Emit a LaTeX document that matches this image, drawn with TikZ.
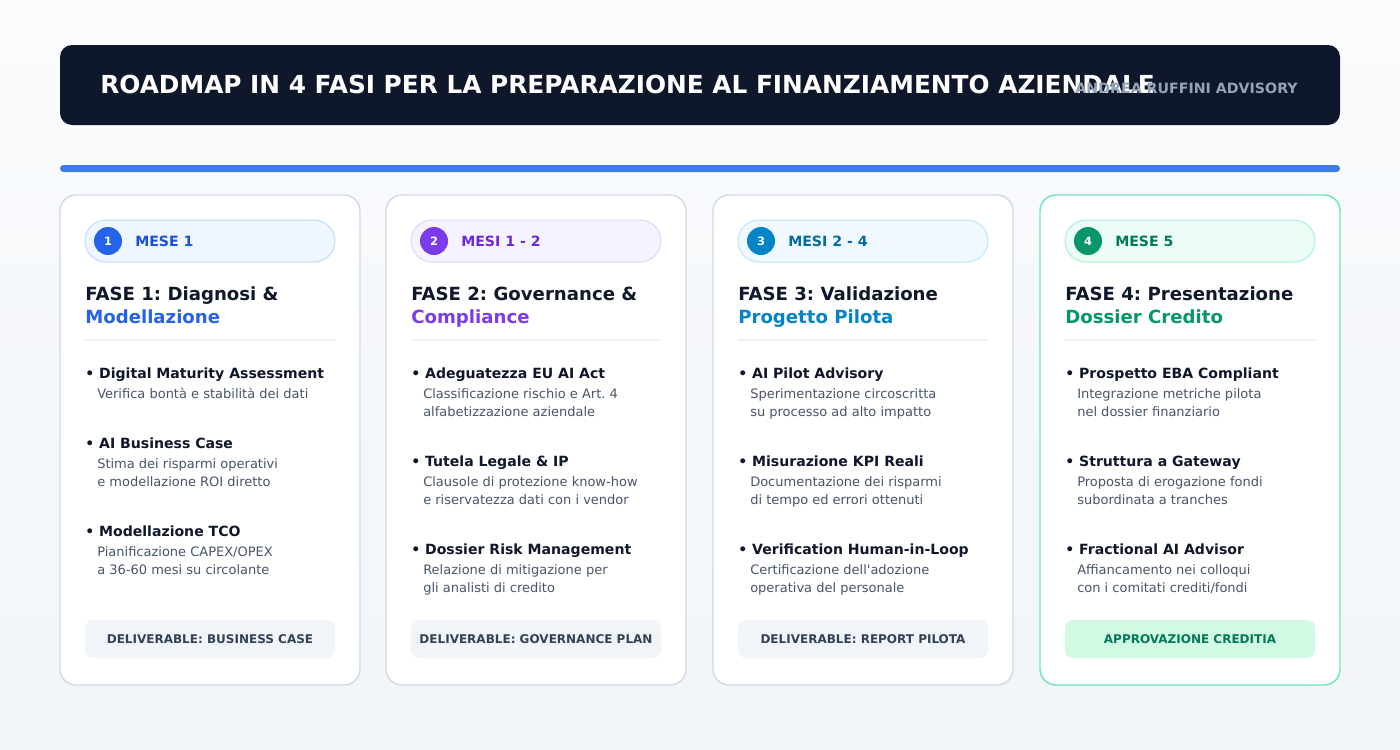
\documentclass[tikz,border=0pt]{standalone}
\usepackage{fontspec}
\setmainfont{DejaVu Sans}
\frenchspacing

\definecolor{ink}{HTML}{0F172A}
\definecolor{slate}{HTML}{475569}
\definecolor{dtext}{HTML}{334155}
\definecolor{muted}{HTML}{94A3B8}
\definecolor{cardline}{HTML}{D1DAE5}
\definecolor{sepline}{HTML}{EEF2F6}
\definecolor{dboxbg}{HTML}{F1F5F9}
\definecolor{bar}{HTML}{3D7BE8}

\definecolor{bluea}{HTML}{2563EB}
\definecolor{blueb}{HTML}{1D4ED8}
\definecolor{bluebg}{HTML}{EFF6FF}
\definecolor{blueln}{HTML}{BFDBFE}
\definecolor{purpa}{HTML}{7C3AED}
\definecolor{purpb}{HTML}{6D28D9}
\definecolor{purpbg}{HTML}{F5F3FF}
\definecolor{purpln}{HTML}{DDD6FE}
\definecolor{skya}{HTML}{0284C7}
\definecolor{skyb}{HTML}{0369A1}
\definecolor{skybg}{HTML}{F0F9FF}
\definecolor{skyln}{HTML}{BAE6FD}
\definecolor{greena}{HTML}{059669}
\definecolor{greenb}{HTML}{047857}
\definecolor{greenbg}{HTML}{ECFDF5}
\definecolor{greenln}{HTML}{A7F3D0}
\definecolor{greencard}{HTML}{6EE7B7}
\definecolor{greenbox}{HTML}{D1FAE5}

\tikzset{
  card/.style={draw=cardline, fill=white, line width=1.1pt, rounded corners=12pt},
  pill/.style={line width=0.75pt, rounded corners=15.75pt},
  num/.style={circle, minimum size=21pt, inner sep=0, text=white, font=\bfseries\fontsize{8.6}{8.6}\selectfont},
  mese/.style={anchor=base west, inner sep=0, font=\bfseries\fontsize{10.6}{10.6}\selectfont},
  ttl/.style={anchor=base west, inner sep=0, text=ink, font=\bfseries\fontsize{13.6}{13.6}\selectfont},
  sep/.style={draw=sepline, line width=1.2pt},
  item/.style={anchor=base west, inner sep=0, text=ink, font=\bfseries\fontsize{10.55}{10.55}\selectfont},
  desc/.style={anchor=base west, inner sep=0, text=slate, font=\fontsize{9.75}{9.75}\selectfont},
  dbox/.style={fill=dboxbg, rounded corners=6pt},
  deliv/.style={anchor=base, inner sep=0, text=dtext, font=\bfseries\fontsize{9}{9}\selectfont}
}

\begin{document}
\begin{tikzpicture}[x=0.75pt, y=-0.75pt]
\useasboundingbox (0, 0) rectangle (1400, 750);
\shade[top color=white!60!dboxbg, bottom color=dboxbg] (0, 0) rectangle (1400, 750);

% header
\fill[ink, rounded corners=9pt] (60, 45) rectangle (1340, 125);
\node[anchor=base west, inner sep=0, text=white, font=\bfseries\fontsize{18.6}{18.6}\selectfont] (head) at (100, 93) {ROADMAP IN 4 FASI PER LA PREPARAZIONE AL FINANZIAMENTO AZIENDALE};
\node[anchor=base east, inner sep=0, text=muted, font=\bfseries\fontsize{10.65}{10.65}\selectfont] (brand) at (1298, 93) {ANDREA RUFFINI ADVISORY};
\fill[bar, rounded corners=2.6pt] (60, 165) rectangle (1340, 172);

% fase 1
\def\dx{60}
\draw[card] (\dx, 195) rectangle (\dx + 300, 685);
\draw[pill, draw=blueln, fill=bluebg] (\dx + 25, 220) rectangle (\dx + 275, 262);
\node[num, fill=bluea] (n1) at (\dx + 48, 241) {1};
\node[mese, text=blueb] (m1) at (\dx + 75, 246) {MESE 1};
\node[ttl] (t1) at (\dx + 25, 300) {FASE 1: Diagnosi \&};
\node[ttl, text=bluea] (s1) at (\dx + 25, 323) {Modellazione};
\draw[sep] (\dx + 25, 340) -- (\dx + 275, 340);
\node[item] (a1) at (\dx + 25, 378) {• Digital Maturity Assessment};
\node[desc] (a1l) at (\dx + 37, 398) {Verifica bontà e stabilità dei dati};
\node[item] (b1) at (\dx + 25, 448) {• AI Business Case};
\node[desc] (b1l) at (\dx + 37, 468) {Stima dei risparmi operativi};
\node[desc] (b1m) at (\dx + 37, 486) {e modellazione ROI diretto};
\node[item] (c1) at (\dx + 25, 536) {• Modellazione TCO};
\node[desc] (c1l) at (\dx + 37, 556) {Pianificazione CAPEX/OPEX};
\node[desc] (c1m) at (\dx + 37, 574) {a 36-60 mesi su circolante};
\fill[dbox] (\dx + 25, 620) rectangle (\dx + 275, 658);
\node[deliv] (d1) at (\dx + 150, 643) {DELIVERABLE: BUSINESS CASE};

% fase 2
\def\dx{386}
\draw[card] (\dx, 195) rectangle (\dx + 300, 685);
\draw[pill, draw=purpln, fill=purpbg] (\dx + 25, 220) rectangle (\dx + 275, 262);
\node[num, fill=purpa] (n2) at (\dx + 48, 241) {2};
\node[mese, text=purpb] (m2) at (\dx + 75, 246) {MESI 1 - 2};
\node[ttl] (t2) at (\dx + 25, 300) {FASE 2: Governance \&};
\node[ttl, text=purpa] (s2) at (\dx + 25, 323) {Compliance};
\draw[sep] (\dx + 25, 340) -- (\dx + 275, 340);
\node[item] (a2) at (\dx + 25, 378) {• Adeguatezza EU AI Act};
\node[desc] (a2l) at (\dx + 37, 398) {Classificazione rischio e Art. 4};
\node[desc] (a2m) at (\dx + 37, 416) {alfabetizzazione aziendale};
\node[item] (b2) at (\dx + 25, 466) {• Tutela Legale \& IP};
\node[desc] (b2l) at (\dx + 37, 486) {Clausole di protezione know-how};
\node[desc] (b2m) at (\dx + 37, 504) {e riservatezza dati con i vendor};
\node[item] (c2) at (\dx + 25, 554) {• Dossier Risk Management};
\node[desc] (c2l) at (\dx + 37, 574) {Relazione di mitigazione per};
\node[desc] (c2m) at (\dx + 37, 592) {gli analisti di credito};
\fill[dbox] (\dx + 25, 620) rectangle (\dx + 275, 658);
\node[deliv] (d2) at (\dx + 150, 643) {DELIVERABLE: GOVERNANCE PLAN};

% fase 3
\def\dx{713}
\draw[card] (\dx, 195) rectangle (\dx + 300, 685);
\draw[pill, draw=skyln, fill=skybg] (\dx + 25, 220) rectangle (\dx + 275, 262);
\node[num, fill=skya] (n3) at (\dx + 48, 241) {3};
\node[mese, text=skyb] (m3) at (\dx + 75, 246) {MESI 2 - 4};
\node[ttl] (t3) at (\dx + 25, 300) {FASE 3: Validazione};
\node[ttl, text=skya] (s3) at (\dx + 25, 323) {Progetto Pilota};
\draw[sep] (\dx + 25, 340) -- (\dx + 275, 340);
\node[item] (a3) at (\dx + 25, 378) {• AI Pilot Advisory};
\node[desc] (a3l) at (\dx + 37, 398) {Sperimentazione circoscritta};
\node[desc] (a3m) at (\dx + 37, 416) {su processo ad alto impatto};
\node[item] (b3) at (\dx + 25, 466) {• Misurazione KPI Reali};
\node[desc] (b3l) at (\dx + 37, 486) {Documentazione dei risparmi};
\node[desc] (b3m) at (\dx + 37, 504) {di tempo ed errori ottenuti};
\node[item] (c3) at (\dx + 25, 554) {• Verification Human-in-Loop};
\node[desc] (c3l) at (\dx + 37, 574) {Certificazione dell\textquotesingle adozione};
\node[desc] (c3m) at (\dx + 37, 592) {operativa del personale};
\fill[dbox] (\dx + 25, 620) rectangle (\dx + 275, 658);
\node[deliv] (d3) at (\dx + 150, 643) {DELIVERABLE: REPORT PILOTA};

% fase 4
\def\dx{1040}
\draw[card, draw=greencard] (\dx, 195) rectangle (\dx + 300, 685);
\draw[pill, draw=greenln, fill=greenbg] (\dx + 25, 220) rectangle (\dx + 275, 262);
\node[num, fill=greena] (n4) at (\dx + 48, 241) {4};
\node[mese, text=greenb] (m4) at (\dx + 75, 246) {MESE 5};
\node[ttl] (t4) at (\dx + 25, 300) {FASE 4: Presentazione};
\node[ttl, text=greena] (s4) at (\dx + 25, 323) {Dossier Credito};
\draw[sep] (\dx + 25, 340) -- (\dx + 275, 340);
\node[item] (a4) at (\dx + 25, 378) {• Prospetto EBA Compliant};
\node[desc] (a4l) at (\dx + 37, 398) {Integrazione metriche pilota};
\node[desc] (a4m) at (\dx + 37, 416) {nel dossier finanziario};
\node[item] (b4) at (\dx + 25, 466) {• Struttura a Gateway};
\node[desc] (b4l) at (\dx + 37, 486) {Proposta di erogazione fondi};
\node[desc] (b4m) at (\dx + 37, 504) {subordinata a tranches};
\node[item] (c4) at (\dx + 25, 554) {• Fractional AI Advisor};
\node[desc] (c4l) at (\dx + 37, 574) {Affiancamento nei colloqui};
\node[desc] (c4m) at (\dx + 37, 592) {con i comitati crediti/fondi};
\fill[dbox, fill=greenbox] (\dx + 25, 620) rectangle (\dx + 275, 658);
\node[deliv, text=greenb] (d4) at (\dx + 150, 643) {APPROVAZIONE CREDITIA};
\end{tikzpicture}
\end{document}
